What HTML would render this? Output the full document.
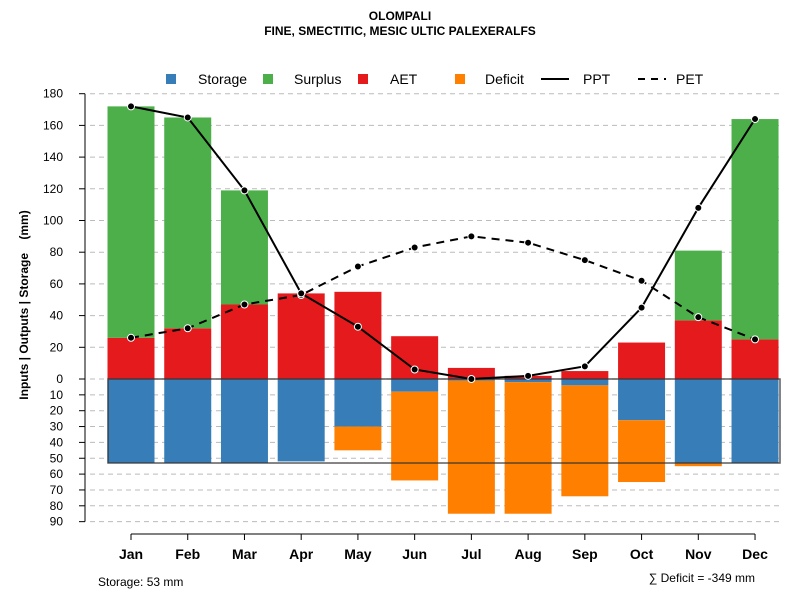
<!DOCTYPE html>
<html><head><meta charset="utf-8"><style>
body{margin:0;background:#fff;font-family:"Liberation Sans",sans-serif}
</style></head><body>
<svg id="c" width="800" height="600" xmlns="http://www.w3.org/2000/svg" font-family="Liberation Sans, sans-serif">
<text x="400" y="20" text-anchor="middle" font-size="12" font-weight="bold">OLOMPALI</text>
<text x="400" y="35" text-anchor="middle" font-size="12" font-weight="bold">FINE, SMECTITIC, MESIC ULTIC PALEXERALFS</text>
<g id="grid"></g><g id="bars"></g><g id="lines"></g><g id="axes"></g>
<g font-size="14">
<rect x="166" y="74" width="10" height="10" fill="#377eb8"/><text x="198" y="84">Storage</text>
<rect x="263" y="74" width="10" height="10" fill="#4daf4a"/><text x="294" y="84">Surplus</text>
<rect x="358" y="74" width="10" height="10" fill="#e41a1c"/><text x="390" y="84">AET</text>
<rect x="455" y="74" width="10" height="10" fill="#ff7f00"/><text x="485" y="84">Deficit</text>
<line x1="541" y1="79" x2="569" y2="79" stroke="#000" stroke-width="2"/><text x="583" y="84">PPT</text>
<line x1="638" y1="79" x2="666" y2="79" stroke="#000" stroke-width="2" stroke-dasharray="7,6"/><text x="676" y="84">PET</text>
</g>
<text transform="translate(28,305) rotate(-90)" text-anchor="middle" font-size="12" font-weight="bold">Inputs | Outputs | Storage&#160;&#160;&#160;&#160;(mm)</text>
<text x="98" y="586" font-size="12">Storage: 53 mm</text>
<text x="755" y="582" text-anchor="end" font-size="12">∑ Deficit = -349 mm</text>
</svg>
<script>
const months=["Jan","Feb","Mar","Apr","May","Jun","Jul","Aug","Sep","Oct","Nov","Dec"];
const ppt=[172,165,119,54,33,6,0,2,8,45,108,164];
const pet=[26,32,47,53,71,83,90,86,75,62,39,25];
const aet=[26,32,47,54,55,27,7,2,5,23,37,25];
const surplus=[146,133,72,0,0,0,0,0,0,0,44,139];
const storage=[53,53,53,52,30,8,1,2,4,26,53,53];
const deficit=[0,0,0,0,15,56,84,83,70,39,2,0];
const posTicks=[0,20,40,60,80,100,120,140,160,180];
const negTicks=[10,20,30,40,50,60,70,80,90];
const awc=53;
const NS="http://www.w3.org/2000/svg";
const y0=379,k=1.585;
function yp(v){return y0-v*k}
function yn(v){return y0+v*k}
function xc(i){return 131+i*56.73}
const bw=47;
function el(tag,a,parent){const e=document.createElementNS(NS,tag);for(const q in a)e.setAttribute(q,a[q]);document.getElementById(parent).appendChild(e);return e}
posTicks.forEach(t=>{const g=el('line',{x1:90,x2:780,y1:yp(t),y2:yp(t),stroke:'#bbb','stroke-dasharray':'5,4'},'grid');


const tk=el('line',{x1:79,x2:85,y1:yp(t),y2:yp(t),stroke:'#000'},'axes');


const tl=el('text',{x:63,y:yp(t)+4,'text-anchor':'end','font-size':12},'axes');tl.textContent=t;

});
negTicks.forEach(t=>{const g=el('line',{x1:90,x2:780,y1:yn(t),y2:yn(t),stroke:'#bbb','stroke-dasharray':'5,4'},'grid');


const tk=el('line',{x1:79,x2:85,y1:yn(t),y2:yn(t),stroke:'#000'},'axes');


const tl=el('text',{x:63,y:yn(t)+4,'text-anchor':'end','font-size':12},'axes');tl.textContent=t;

});
const ax=el('line',{x1:85,x2:85,y1:yp(180),y2:yn(90),stroke:'#000'},'axes');


const bx=el('line',{x1:xc(0),x2:xc(11),y1:534,y2:534,stroke:'#000'},'axes');


months.forEach((m,i)=>{const x=xc(i);
let r=el('rect',{x:x-bw/2,y:yp(aet[i]),width:bw,height:aet[i]*k,fill:'#e41a1c'},'bars');


r=el('rect',{x:x-bw/2,y:yp(aet[i]+surplus[i]),width:bw,height:surplus[i]*k,fill:'#4daf4a'},'bars');


r=el('rect',{x:x-bw/2,y:y0,width:bw,height:storage[i]*k,fill:'#377eb8'},'bars');


r=el('rect',{x:x-bw/2,y:yn(storage[i]),width:bw,height:deficit[i]*k,fill:'#ff7f00'},'bars');


const tk=el('line',{x1:x,x2:x,y1:534,y2:540,stroke:'#000'},'axes');


const tl=el('text',{x:x,y:559,'text-anchor':'middle','font-size':14,'font-weight':'bold'},'axes');tl.textContent=m;

});
const box=el('rect',{x:108,y:y0,width:672,height:awc*k,fill:'none',stroke:'#333','stroke-width':1.5,'stroke-opacity':0.8},'bars');


function line(arr,dash,name){const p=el('polyline',{points:arr.map((v,i)=>xc(i)+','+yp(v)).join(' '),fill:'none',stroke:'#000','stroke-width':2,'stroke-dasharray':dash},'lines');


arr.forEach((v,i)=>{const c=el('circle',{cx:xc(i),cy:yp(v),r:3.5,fill:'#000',stroke:'#fff','stroke-width':1},'lines');

});}
line(pet,'8,6','pet');line(ppt,'none','ppt');
</script>
</body></html>
